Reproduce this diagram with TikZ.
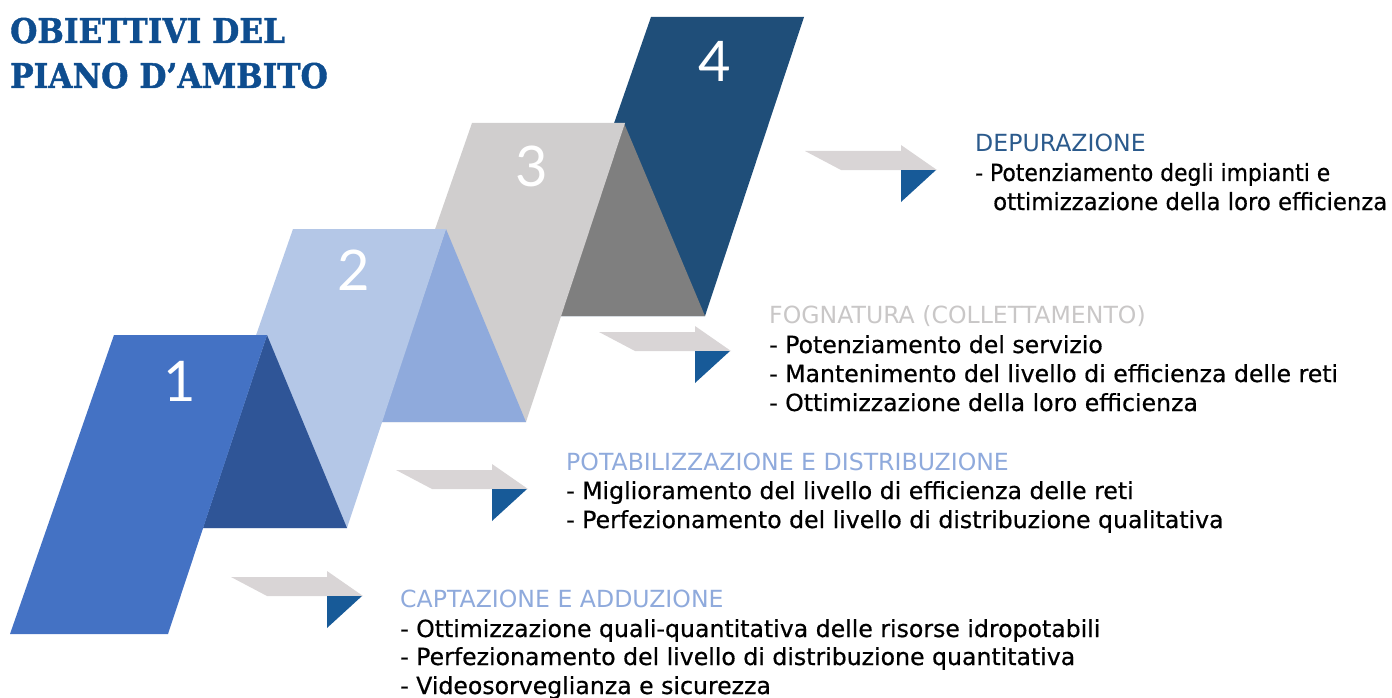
\documentclass[tikz,border=0pt]{standalone}
\usepackage{fontspec}
\setmainfont{DejaVu Sans}
\newfontfamily\bodyfont{DejaVu Sans}[FakeBold=0.6]
\newfontfamily\titlefont{DejaVu Serif}[FakeBold=1.3]
\newfontfamily\numfont{Lato}
\definecolor{sOne}{HTML}{4472C4}
\definecolor{tOne}{HTML}{2F5597}
\definecolor{sTwo}{HTML}{B4C7E7}
\definecolor{tTwo}{HTML}{8FAADC}
\definecolor{sThree}{HTML}{D0CECE}
\definecolor{tThree}{HTML}{7F7F7F}
\definecolor{sFour}{HTML}{1F4E79}
\definecolor{arrgray}{HTML}{D9D5D6}
\definecolor{arrblue}{HTML}{175A98}
\definecolor{titleblue}{HTML}{0E4D8F}
\definecolor{hDep}{HTML}{2B5A8C}
\definecolor{hFog}{HTML}{C9C7C7}
\definecolor{hPot}{HTML}{8FAADC}
\begin{document}
\begin{tikzpicture}[x=1pt,y=-1pt,
  numstyle/.style={text=white,font=\numfont\fontsize{56}{60}\selectfont,inner sep=0pt,anchor=center},
  headstyle/.style={anchor=base west,inner sep=0pt,font=\fontsize{23.6}{28}\selectfont},
  linestyle/.style={anchor=base west,inner sep=0pt,text=black,font=\bodyfont\fontsize{23.6}{28}\selectfont},
  titlestyle/.style={anchor=base west,inner sep=0pt,text=titleblue,font=\titlefont\bfseries\fontsize{34}{40}\selectfont}]
\useasboundingbox (0,0) rectangle (1392,698);

% title
\node[titlestyle] (t1) at (10,43) {\scalebox{0.92}[1]{OBIETTIVI DEL}};
\node[titlestyle] (t2) at (10,88) {\scalebox{0.92}[1]{PIANO D’AMBITO}};

% step 4
\fill[sFour] (651,17) -- (804,17) -- (705,316) -- (547,316) -- cycle;
% step 3
\fill[tThree] (624,123) -- (705,316) -- (560,316) -- cycle;
\fill[sThree] (472,123) -- (625,123) -- (526,422) -- (368,422) -- cycle;
% step 2
\fill[tTwo] (446,229) -- (526,422) -- (381,422) -- cycle;
\fill[sTwo] (293,229) -- (446,229) -- (347,528) -- (189,528) -- cycle;
% step 1
\fill[tOne] (267,335) -- (347,528) -- (203,528) -- cycle;
\fill[sOne] (114,335) -- (267,335) -- (168,634) -- (10,634) -- cycle;

\node[numstyle] (n1) at (180,381) {1};
\node[numstyle] (n2) at (354,270) {2};
\node[numstyle] (n3) at (532,166) {3};
\node[numstyle] (n4) at (715,61) {4};

% arrows
\foreach \tx/\ty in {363/596, 528/489, 731/351, 937/170}{
  \begin{scope}[shift={(\tx,\ty)}]
    \fill[arrgray] (-132,-19) -- (-36,-19) -- (-36,-25) -- (0,0) -- (-96,0) -- cycle;
    \fill[arrblue] (-36,0) -- (-1,0) -- (-36,32) -- cycle;
  \end{scope}
}

% texts
\node[headstyle,text=hDep] (h4) at (975,152) {DEPURAZIONE};
\node[linestyle] (l41) at (975,181) {\resizebox{355pt}{\height}{- Potenziamento degli impianti e}};
\node[linestyle] (l42) at (993,210) {\resizebox{394pt}{\height}{ottimizzazione della loro efficienza}};

\node[headstyle,text=hFog] (h3) at (769,323) {FOGNATURA (COLLETTAMENTO)};
\node[linestyle] (l31) at (769,353) {- Potenziamento del servizio};
\node[linestyle] (l32) at (769,382) {- Mantenimento del livello di efficienza delle reti};
\node[linestyle] (l33) at (769,411) {- Ottimizzazione della loro efficienza};

\node[headstyle,text=hPot] (h2) at (566,470) {POTABILIZZAZIONE E DISTRIBUZIONE};
\node[linestyle] (l21) at (566,499) {- Miglioramento del livello di efficienza delle reti};
\node[linestyle] (l22) at (566,528) {- Perfezionamento del livello di distribuzione qualitativa};

\node[headstyle,text=hPot] (h1) at (400,607) {CAPTAZIONE E ADDUZIONE};
\node[linestyle] (l11) at (400,637) {- Ottimizzazione quali-quantitativa delle risorse idropotabili};
\node[linestyle] (l12) at (400,665) {- Perfezionamento del livello di distribuzione quantitativa};
\node[linestyle] (l13) at (400,694) {- Videosorveglianza e sicurezza};
\end{tikzpicture}
\end{document}
